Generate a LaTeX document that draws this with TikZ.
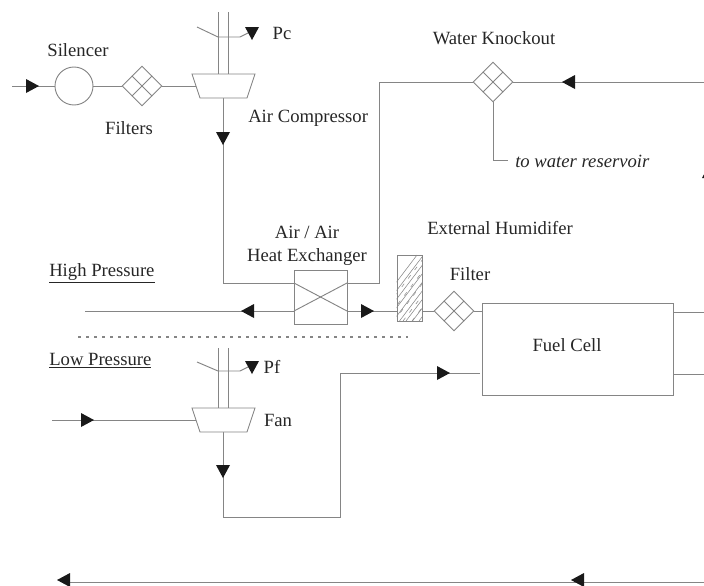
\documentclass[tikz,border=0pt]{standalone}
\usepackage{fontspec}
\setmainfont{Liberation Serif}
\usetikzlibrary{shapes.geometric,calc}
\definecolor{linec}{gray}{0.52}
\definecolor{textc}{gray}{0.15}
\definecolor{tipc}{gray}{0.1}
\tikzset{
  pipe/.style={draw=linec,line width=0.7pt},
  filterbox/.style={diamond,aspect=1,draw=linec,line width=0.7pt,minimum size=30pt,inner sep=0pt},
  lab/.style={text=textc,font=\fontsize{14}{17.25}\selectfont,inner sep=0pt,align=center},
}
\newcommand{\arR}[2]{\fill[tipc] ({#1-6},{#2-7}) -- ({#1+7},{#2}) -- ({#1-6},{#2+7}) -- cycle;}
\newcommand{\arL}[2]{\fill[tipc] ({#1+6},{#2-7}) -- ({#1-7},{#2}) -- ({#1+6},{#2+7}) -- cycle;}
\newcommand{\arD}[2]{\fill[tipc] ({#1-7},{#2-6}) -- ({#1},{#2+7}) -- ({#1+7},{#2-6}) -- cycle;}
\newcommand{\arU}[2]{\fill[tipc] ({#1-7},{#2+6}) -- ({#1},{#2-7}) -- ({#1+7},{#2+6}) -- cycle;}
\begin{document}
\begin{tikzpicture}[x=0.75pt,y=-0.75pt]
\useasboundingbox (0,0) rectangle (704,586);
% components
\node[circle,pipe,minimum size=28.5pt,inner sep=0pt] (sil) at (74,86) {};
\node[filterbox] (f1) at (142,86) {};
\node[filterbox] (wk) at (493,82) {};
\node[filterbox] (f2) at (454,311) {};
\node[draw=linec,line width=0.7pt,minimum width=39.75pt,minimum height=40.5pt,inner sep=0pt] (hx) at (320.5,297) {};
\node[draw=linec,line width=0.7pt,minimum width=18.75pt,minimum height=49.5pt,inner sep=0pt] (ext) at (409.5,288) {};
\node[draw=linec,line width=0.7pt,minimum width=143.25pt,minimum height=69pt,inner sep=0pt] (fc) at (577.5,349) {};
% named points
\coordinate (inA) at (12,86);
\coordinate (compL) at (196,86);
\coordinate (compB) at (223,98);
\coordinate (right1) at (704,82);
\coordinate (c1) at (379,82);
\coordinate (c1b) at (379,283);
\coordinate (c2) at (223,283);
\coordinate (hxTL) at (294,283);
\coordinate (hxTR) at (347,283);
\coordinate (hxBL) at (294,311);
\coordinate (hxBR) at (347,311);
\coordinate (hpL) at (85,311);
\coordinate (extL) at (397,311);
\coordinate (extR) at (422,311);
\coordinate (fcL) at (482,311);
\coordinate (drainA) at (493,160);
\coordinate (drainB) at (508,160);
\coordinate (fcOut1) at (704,312);
\coordinate (fcA1) at (673,312);
\coordinate (fcOut2) at (704,374);
\coordinate (fcA2) at (673,374);
\coordinate (fcIn) at (480,373);
\coordinate (u1) at (340,373);
\coordinate (u2) at (340,517);
\coordinate (u3) at (223,517);
\coordinate (fanB) at (223,432);
\coordinate (fanIn) at (52,420);
\coordinate (fanL) at (196,420);
\coordinate (botL) at (62,582);
\coordinate (botR) at (704,582);
\coordinate (dotL) at (78,337);
\coordinate (dotR) at (408,337);
% connectors
\draw[pipe] (inA) -- (sil);
\draw[pipe] (sil) -- (f1);
\draw[pipe] (f1) -- (compL);
\draw[pipe] (compB) -- (c2) -- (hxTL);
\draw[pipe] (right1) -- (wk);
\draw[pipe] (wk) -- (c1) -- (c1b) -- (hxTR);
\draw[pipe] (wk) -- (wk |- drainA) -- (drainB);
\draw[pipe] (hxTL) -- (hxBR);
\draw[pipe] (hxBL) -- (hxTR);
\draw[pipe] (hpL) -- (hxBL);
\draw[pipe] (hxBR) -- (extL);
\draw[pipe] (extR) -- (f2);
\draw[pipe] (f2) -- (fcL);
\draw[pipe] (fcA1) -- (fcOut1);
\draw[pipe] (fcA2) -- (fcOut2);
\draw[pipe] (fcIn) -- (u1) -- (u2) -- (u3) -- (fanB);
\draw[pipe] (fanIn) -- (fanL);
\draw[pipe] (botL) -- (botR);
\draw[linec,line width=0.9pt,dash pattern=on 2.6pt off 3.4pt] (dotL) -- (dotR);
% compressor
\draw[pipe,fill=white] (192,74) -- (255,74) -- (247,98) -- (200,98) -- cycle;
\draw[pipe] (218,12) -- (218,74);
\draw[pipe] (228,12) -- (228,74);
\draw[pipe] (197,27) -- (218,37) -- (240,37) -- (250,32);
% fan
\draw[pipe,fill=white] (192,408) -- (255,408) -- (247,432) -- (200,432) -- cycle;
\draw[pipe] (218,348) -- (218,408);
\draw[pipe] (228,348) -- (228,408);
\draw[pipe] (197,362) -- (218,371) -- (240,371) -- (250,366);
% filter grids
\foreach \n in {f1,wk,f2}{
  \draw[pipe] ($(\n.north)!0.5!(\n.west)$) -- ($(\n.south)!0.5!(\n.east)$);
  \draw[pipe] ($(\n.north)!0.5!(\n.east)$) -- ($(\n.south)!0.5!(\n.west)$);
}
% humidifier hatching
\begin{scope}
\clip (ext.south west) rectangle (ext.north east);
\foreach \i in {0,...,13}{
  \draw[linec,line width=0.4pt] ({367+\i*6.5},321) -- ({367+\i*6.5+50},255);
}
\foreach \i in {0,...,4}{
  \draw[linec,line width=0.4pt,dash pattern=on 3pt off 5pt] ({376+\i*9},321) -- ({376+\i*9+50},255);
}
\end{scope}
% arrowheads
\arR{32}{86}
\arD{252}{33}
\arD{223}{138}
\arL{569}{82}
\arL{248}{311}
\arR{367}{311}
\arD{252}{367}
\arR{87}{420}
\arD{223}{471}
\arR{443}{373}
\arL{64}{580}
\arL{578}{580}
\arU{709}{172}
% labels
\node[lab] (tSil) at (78,50) {Silencer};
\node[lab] (tFil) at (129,128) {Filters};
\node[lab] (tPc) at (282,33) {Pc};
\node[lab,anchor=west] (tAC) at (248,118) {Air Compressor};
\node[lab] (tWK) at (494,38) {Water Knockout};
\node[lab,anchor=west,font=\fontsize{14}{17}\selectfont\itshape] (tWR) at (515,161) {to water reservoir};
\node[lab] (tHX) at (307,246) {Air / Air\\Heat Exchanger};
\node[lab,anchor=west] (tEH) at (427,228) {External Humidifer};
\node[lab] (tFi) at (470,274) {Filter};
\node[lab,anchor=west] (tHP) at (49,273) {\underline{High Pressure}};
\node[lab,anchor=west] (tLP) at (49,361) {\underline{Low Pressure}};
\node[lab] (tPf) at (272,367) {Pf};
\node[lab] (tFan) at (278,420) {Fan};
\node[lab] (tFC) at (567,345) {Fuel Cell};
\end{tikzpicture}
\end{document}
